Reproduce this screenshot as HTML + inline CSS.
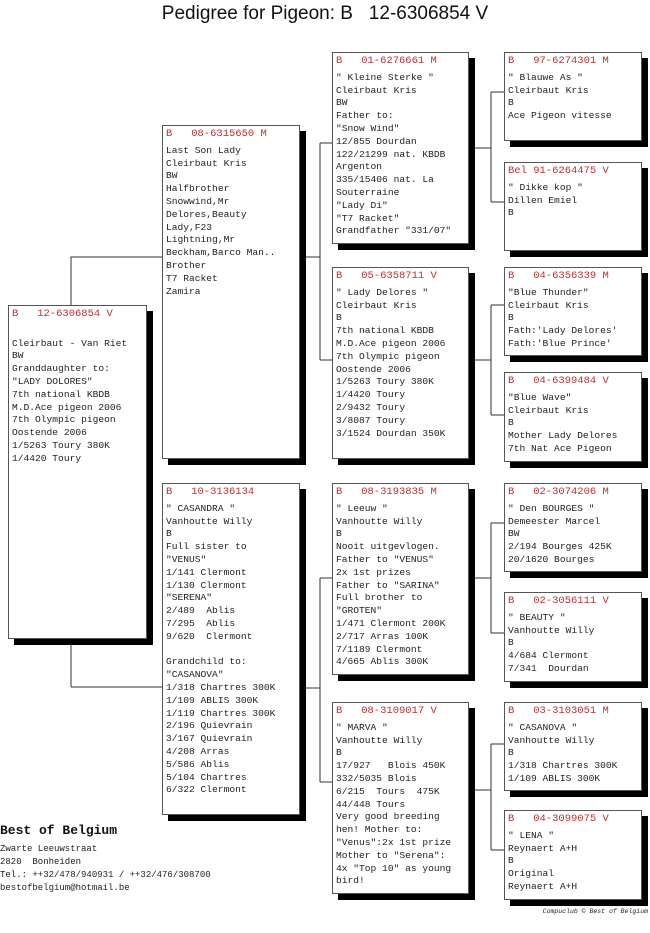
<!DOCTYPE html>
<html><head><meta charset="utf-8"><style>
body{margin:0;width:650px;height:933px;background:#fff;position:relative;overflow:hidden;font-family:"Liberation Mono",monospace;}
.b{position:absolute;background:#fff;border:1px solid #555;box-shadow:6px 6px 0 #000;box-sizing:border-box;padding:2px 0 0 3px;font-size:9.6px;line-height:12.8px;color:#222;white-space:pre;}
.h{color:#c03030;font-size:10.5px;margin-bottom:4px;}
.t{position:absolute;left:0;top:3px;width:650px;text-align:center;font-family:"Liberation Sans",sans-serif;font-size:19px;color:#111;}
svg{position:absolute;left:0;top:0;}
</style></head><body>
<div class="t">Pedigree for Pigeon: B &nbsp;&nbsp;12-6306854 V</div>
<svg width="650" height="933"><g stroke="#333" stroke-width="1" fill="none">
<path d="M71 687V257H162M71 687H162"/>
<path d="M300 257H320M320 143V360M320 143H332M320 360H332"/>
<path d="M300 688H320M320 578V782M320 578H332M320 782H332"/>
<path d="M469 148H491M491 92V202M491 92H504M491 202H504"/>
<path d="M469 360H491M491 305V415M491 305H504M491 415H504"/>
<path d="M469 578H491M491 523V633M491 523H504M491 633H504"/>
<path d="M469 790H491M491 744V850M491 744H504M491 850H504"/>
</g></svg>

<div class="b" style="left:8px;top:305px;width:139px;height:334px"><div class="h">B   12-6306854 V</div>
Cleirbaut - Van Riet
BW
Granddaughter to:
"LADY DOLORES"
7th national KBDB
M.D.Ace pigeon 2006
7th Olympic pigeon
Oostende 2006
1/5263 Toury 380K
1/4420 Toury</div>

<div class="b" style="left:162px;top:125px;width:138px;height:334px"><div class="h">B   08-6315650 M</div>Last Son Lady
Cleirbaut Kris
BW
Halfbrother
Snowwind,Mr
Delores,Beauty
Lady,F23
Lightning,Mr
Beckham,Barco Man..
Brother
T7 Racket
Zamira</div>

<div class="b" style="left:162px;top:483px;width:138px;height:332px"><div class="h">B   10-3136134</div>" CASANDRA "
Vanhoutte Willy
B
Full sister to
"VENUS"
1/141 Clermont
1/130 Clermont
"SERENA"
2/489  Ablis
7/295  Ablis
9/620  Clermont

Grandchild to:
"CASANOVA"
1/318 Chartres 300K
1/109 ABLIS 300K
1/119 Chartres 300K
2/196 Quievrain
3/167 Quievrain
4/208 Arras
5/586 Ablis
5/104 Chartres
6/322 Clermont</div>

<div class="b" style="left:332px;top:52px;width:137px;height:192px"><div class="h">B   01-6276661 M</div>" Kleine Sterke "
Cleirbaut Kris
BW
Father to:
"Snow Wind"
12/855 Dourdan
122/21299 nat. KBDB
Argenton
335/15406 nat. La
Souterraine
"Lady Di"
"T7 Racket"
Grandfather "331/07"</div>

<div class="b" style="left:332px;top:267px;width:137px;height:192px"><div class="h">B   05-6358711 V</div>" Lady Delores "
Cleirbaut Kris
B
7th national KBDB
M.D.Ace pigeon 2006
7th Olympic pigeon
Oostende 2006
1/5263 Toury 380K
1/4420 Toury
2/9432 Toury
3/8087 Toury
3/1524 Dourdan 350K</div>

<div class="b" style="left:332px;top:483px;width:137px;height:192px"><div class="h">B   08-3193835 M</div>" Leeuw "
Vanhoutte Willy
B
Nooit uitgevlogen.
Father to "VENUS"
2x 1st prizes
Father to "SARINA"
Full brother to
"GROTEN"
1/471 Clermont 200K
2/717 Arras 100K
7/1189 Clermont
4/665 Ablis 300K</div>

<div class="b" style="left:332px;top:702px;width:137px;height:192px"><div class="h">B   08-3109017 V</div>" MARVA "
Vanhoutte Willy
B
17/927   Blois 450K
332/5035 Blois
6/215  Tours  475K
44/448 Tours
Very good breeding
hen! Mother to:
"Venus":2x 1st prize
Mother to "Serena":
4x "Top 10" as young
bird!</div>

<div class="b" style="left:504px;top:52px;width:138px;height:89px"><div class="h">B   97-6274301 M</div>" Blauwe As "
Cleirbaut Kris
B
Ace Pigeon vitesse</div>
<div class="b" style="left:504px;top:162px;width:138px;height:89px"><div class="h">Bel 91-6264475 V</div>" Dikke kop "
Dillen Emiel
B</div>
<div class="b" style="left:504px;top:267px;width:138px;height:89px"><div class="h">B   04-6356339 M</div>"Blue Thunder"
Cleirbaut Kris
B
Fath:'Lady Delores'
Fath:'Blue Prince'</div>
<div class="b" style="left:504px;top:372px;width:138px;height:90px"><div class="h">B   04-6399484 V</div>"Blue Wave"
Cleirbaut Kris
B
Mother Lady Delores
7th Nat Ace Pigeon</div>
<div class="b" style="left:504px;top:483px;width:138px;height:89px"><div class="h">B   02-3074206 M</div>" Den BOURGES "
Demeester Marcel
BW
2/194 Bourges 425K
20/1620 Bourges</div>
<div class="b" style="left:504px;top:592px;width:138px;height:90px"><div class="h">B   02-3056111 V</div>" BEAUTY "
Vanhoutte Willy
B
4/684 Clermont
7/341  Dourdan</div>
<div class="b" style="left:504px;top:702px;width:138px;height:89px"><div class="h">B   03-3103051 M</div>" CASANOVA "
Vanhoutte Willy
B
1/318 Chartres 300K
1/109 ABLIS 300K</div>
<div class="b" style="left:504px;top:810px;width:138px;height:90px"><div class="h">B   04-3099075 V</div>" LENA "
Reynaert A+H
B
Original
Reynaert A+H</div>

<div style="position:absolute;left:0;top:823px;font-weight:bold;font-size:13px;color:#111">Best of Belgium</div>
<div style="position:absolute;left:0;top:843px;font-size:9px;line-height:13px;color:#222;white-space:pre">Zwarte Leeuwstraat
2820  Bonheiden
Tel.: ++32/478/940931 / ++32/476/308700
bestofbelgium@hotmail.be</div>
<div style="position:absolute;right:2px;top:908px;font-size:6.5px;font-style:italic;color:#222">Compuclub © Best of Belgium</div>
</body></html>
